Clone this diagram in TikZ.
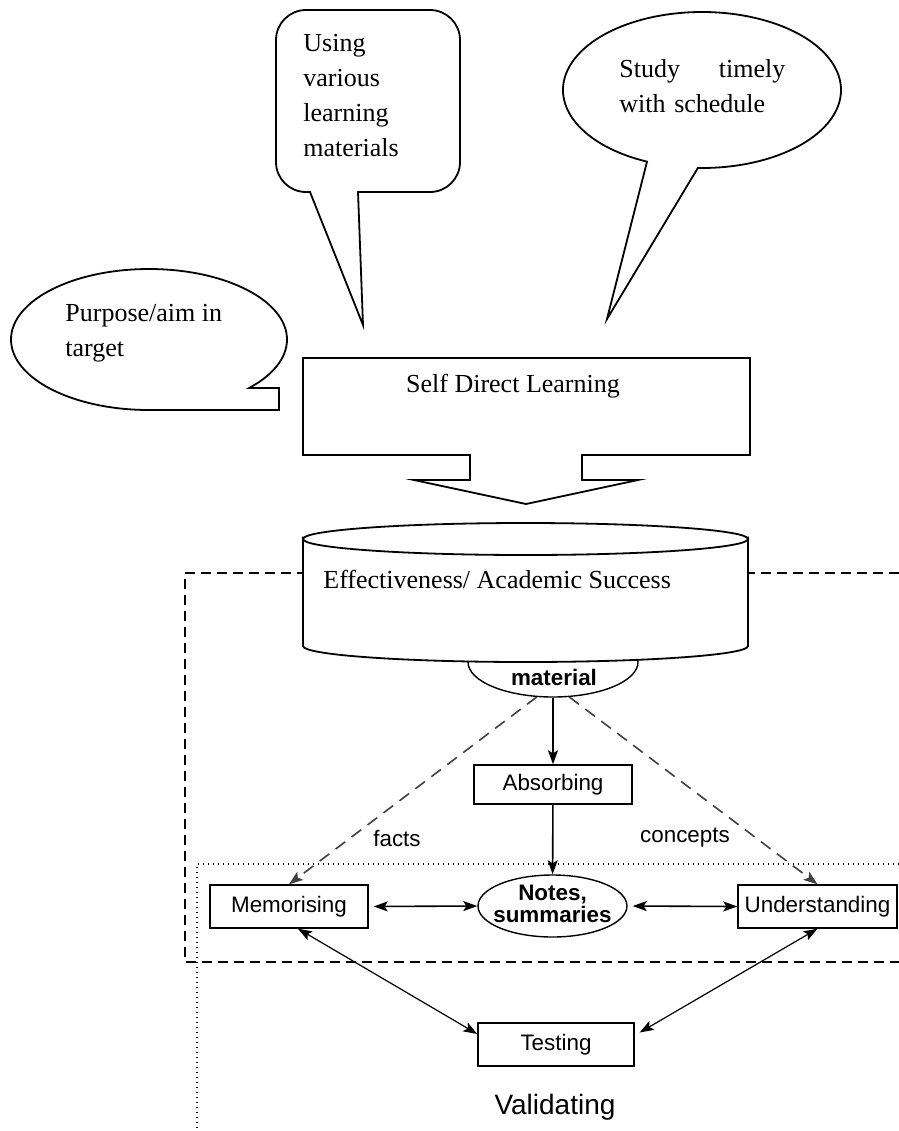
\documentclass[tikz,border=0pt]{standalone}
\usepackage{fontspec}
\setmainfont{Liberation Serif}
\setsansfont{Liberation Sans}
\usetikzlibrary{arrows.meta,shapes.geometric}

\begin{document}
\begin{tikzpicture}[
  x=0.5pt, y=-0.5pt,
  outline/.style={draw, line width=0.9pt, fill=white},
  say/.style={font=\fontsize{13}{17.5}\selectfont, align=left, inner sep=0pt},
  box/.style={draw, line width=0.7pt, minimum height=21.5pt, inner sep=2pt,
    font=\sffamily\fontsize{11.2}{13}\selectfont},
  oval/.style={draw, ellipse, line width=0.7pt, inner sep=0pt},
  lbl/.style={font=\sffamily\fontsize{11.2}{13}\selectfont},
  arrow/.style={-{Stealth[length=7pt,width=5pt,inset=1.5pt]}, line width=0.8pt},
  both/.style={{Stealth[length=7pt,width=5pt,inset=1.5pt]}-{Stealth[length=7pt,width=5pt,inset=1.5pt]}, line width=0.8pt},
  dasharrow/.style={arrow, dash pattern=on 6pt off 4pt, draw=black!75}
]
\useasboundingbox (0,0) rectangle (899,1131);

% three callouts
\draw[outline] (149,410) arc[start angle=90, end angle=403.4, x radius=138, y radius=70.5]
  -- (279,388) -- (279,410) -- cycle;
\node[say, anchor=west] (aim) at (65,333) {Purpose/aim in\\target};

\draw[outline] (363,325) -- (310,192) -- (306,192) arc[start angle=90, end angle=180, radius=30]
  -- (276,40) arc[start angle=180, end angle=270, radius=30]
  -- (430,10) arc[start angle=270, end angle=360, radius=30]
  -- (460,162) arc[start angle=0, end angle=90, radius=30]
  -- (358,192) -- cycle;
\node[say, anchor=west] (using) at (303,96) {Using\\various\\learning\\materials};

\draw[outline] (702,90) ++(113.3:139 and 78)
  arc[start angle=113.3, end angle=451.7, x radius=139, y radius=78] -- (607,319) -- cycle;
\node[say, anchor=west, text width=83pt] (timely) at (619,86) {Study\hfill timely\\with schedule};

% big arrow
\draw[outline] (303,358) -- (750,358) -- (750,455) -- (582,455) -- (582,480) -- (638,480)
  -- (526,504) -- (414,480) -- (470,480) -- (470,455) -- (303,455) -- cycle;
\node[say] (sdl) at (513,386) {Self Direct Learning};

% frames
\draw[line width=0.6pt, dash pattern=on 5pt off 3pt] (899,573) -- (185,573) -- (185,962) -- (899,962);
\draw[line width=0.6pt, dash pattern=on 0.7pt off 1.8pt] (899,864) -- (197,864) -- (197,1131);

\node[oval, minimum width=85pt, minimum height=35pt] (mat) at (553,662) {};

% cylinder
\draw[outline] (303,539) -- (303,646) arc[start angle=180, end angle=0, x radius=222.5, y radius=16]
  -- (748,539) arc[start angle=0, end angle=180, x radius=222.5, y radius=16] -- cycle;
\draw[line width=0.9pt] (748,539) arc[start angle=0, end angle=-180, x radius=222.5, y radius=16];
\node[say, anchor=west] (effect) at (323,579) {Effectiveness/ Academic Success};

\node[font=\sffamily\bfseries\fontsize{11.2}{13}\selectfont] (mattext) at (554,677) {material};

\node[box, minimum width=79pt, minimum height=19.5pt] (absorb) at (553,784.5) {Absorbing};
\node[oval, minimum width=74.5pt, minimum height=31pt] (notes) at (552.5,906) {};
\node[font=\sffamily\bfseries\fontsize{11.2}{10.8}\selectfont, align=center] (notestext) at (552.5,904) {Notes,\\summaries};
\node[box, minimum width=79pt] (mem) at (289,906.5) {Memorising};
\node[box, minimum width=79.5pt] (und) at (817.5,906.5) {Understanding};
\node[box, minimum width=78pt] (test) at (556,1044.5) {Testing};
\node[font=\sffamily\fontsize{14}{16}\selectfont] (valid) at (555,1107) {Validating};

\node[lbl] (facts) at (397,838) {facts};
\node[lbl] (concepts) at (685,838) {concepts};

\draw[arrow] (mat) -- (absorb);
\draw[arrow] (absorb) -- (notes);
\draw[dasharrow] (mat.245) -- (mem.north);
\draw[dasharrow] (mat.295) -- (und.north);
\draw[both, shorten <=2.5pt] (mem.east) -- (notes.west);
\draw[both, shorten <=2.5pt] (notes.east) -- (und.west);
\draw[both, line width=0.6pt] ([xshift=4.5pt]mem.south) -- ([yshift=5.25pt]test.west);
\draw[both, line width=0.6pt] (und.south) -- ([xshift=2.5pt,yshift=6pt]test.east);
\end{tikzpicture}
\end{document}
